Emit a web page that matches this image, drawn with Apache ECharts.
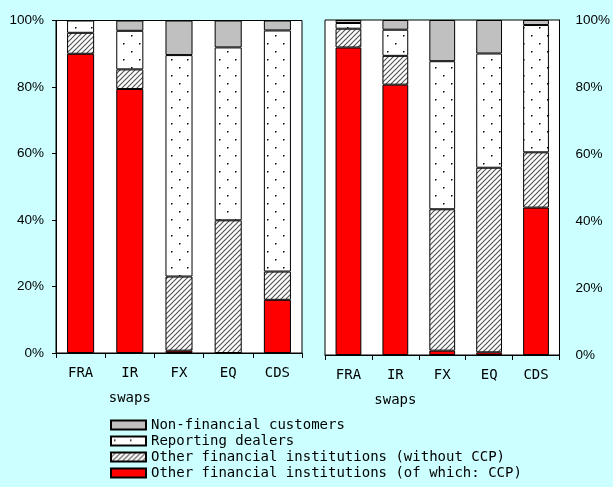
<!DOCTYPE html>
<html><head><meta charset="utf-8">
<script src="https://cdn.jsdelivr.net/npm/echarts@6/dist/echarts.min.js"></script>
<style>html,body{margin:0;padding:0;background:#CCFFFF;}#c{width:613px;height:487px;}</style>
</head><body><div id="c"></div>
<script>
const categories = ['FRA', 'IR\nswaps', 'FX', 'EQ', 'CDS'];
const yTicks = [0, 20, 40, 60, 80, 100];
// left panel
const leftCCP     = [90.0, 79.4, 0.7, 0.0, 16.0];
const leftOtherFI = [6.3, 5.9, 22.3, 39.9, 8.5];
const leftDealers = [3.7, 11.6, 66.6, 52.0, 72.5];
const leftNonFin  = [0.0, 3.1, 10.4, 8.1, 3.0];
// right panel
const rightCCP     = [91.8, 80.7, 1.3, 0.8, 44.0];
const rightOtherFI = [5.6, 8.6, 42.2, 55.1, 16.5];
const rightDealers = [1.7, 7.8, 44.2, 34.1, 38.0];
const rightNonFin  = [0.9, 2.9, 12.3, 10.0, 1.5];
const seriesNames = ['Other financial institutions (of which: CCP)', 'Other financial institutions (without CCP)', 'Reporting dealers', 'Non-financial customers'];

function hatch() {
  const c = document.createElement('canvas'); c.width = 5; c.height = 5;
  const g = c.getContext('2d');
  g.fillStyle = '#fff'; g.fillRect(0, 0, 5, 5);
  g.strokeStyle = '#555'; g.lineWidth = 1.2;
  g.beginPath();
  g.moveTo(-1, 6); g.lineTo(6, -1);
  g.moveTo(-1, 1); g.lineTo(1, -1);
  g.moveTo(4, 6); g.lineTo(6, 4);
  g.stroke();
  return c;
}
function dots() {
  const c = document.createElement('canvas'); c.width = 16; c.height = 16;
  const g = c.getContext('2d');
  g.fillStyle = '#fff'; g.fillRect(0, 0, 16, 16);
  g.fillStyle = '#000';
  g.fillRect(3, 3, 1.5, 1.5);
  g.fillRect(11, 11, 1.5, 1.5);
  return c;
}
const colors = ['#FF0000', {image: hatch(), repeat: 'repeat'}, {image: dots(), repeat: 'repeat'}, '#C0C0C0'];

const chart = echarts.init(document.getElementById('c'));
const mono = 'DejaVu Sans Mono';
const sans = "'Liberation Sans', Arial";

function xAx(gi) {
  return {
    type: 'category', gridIndex: gi, data: categories,
    axisLine: {show: true, lineStyle: {color: '#000', width: 1}},
    axisTick: {show: true, length: 5, lineStyle: {color: '#000'}},
    axisLabel: {color: '#000', fontFamily: mono, fontSize: 14, margin: 8, lineHeight: 25, interval: 0, verticalAlign: 'top'}
  };
}
function yAx(gi, pos) {
  return {
    type: 'value', gridIndex: gi, min: 0, max: 100, interval: 20, position: pos,
    axisLine: {show: true, lineStyle: {color: '#000'}},
    axisTick: {show: pos === 'left', length: 4, lineStyle: {color: '#000'}},
    splitLine: {show: false},
    axisLabel: {color: '#000', fontFamily: sans, fontSize: 13.5, margin: pos === 'left' ? 12 : 16, formatter: '{value}%'}
  };
}
const leftData = [leftCCP, leftOtherFI, leftDealers, leftNonFin];
const rightData = [rightCCP, rightOtherFI, rightDealers, rightNonFin];
const series = [];
[leftData, rightData].forEach((set, gi) => {
  set.forEach((arr, i) => {
    series.push({
      name: seriesNames[i], type: 'bar', stack: 's' + gi,
      xAxisIndex: gi, yAxisIndex: gi, data: arr, barWidth: '55%',
      itemStyle: {color: colors[i], borderColor: '#000', borderWidth: 1},
      emphasis: {disabled: true}
    });
  });
});

chart.setOption({
  animation: false,
  backgroundColor: '#CCFFFF',
  grid: [
    {left: 56, right: 311, top: 20.5, bottom: 134, show: true, backgroundColor: '#fff', borderColor: '#000', borderWidth: 1},
    {left: 325, right: 47, top: 20, bottom: 132, show: true, backgroundColor: '#fff', borderColor: '#000', borderWidth: 1}
  ],
  xAxis: [xAx(0), xAx(1)],
  yAxis: [yAx(0, 'left'), yAx(1, 'right')],
  legend: {
    orient: 'vertical', left: 110, top: 418, width: 500, height: 80, padding: 0,
    itemWidth: 35, itemHeight: 9, itemGap: 2,
    data: seriesNames.slice().reverse(), icon: 'rect',
    textStyle: {fontFamily: mono, fontSize: 14, color: '#000', lineHeight: 14},
    selectedMode: false
  },
  series: series
});
</script></body></html>
